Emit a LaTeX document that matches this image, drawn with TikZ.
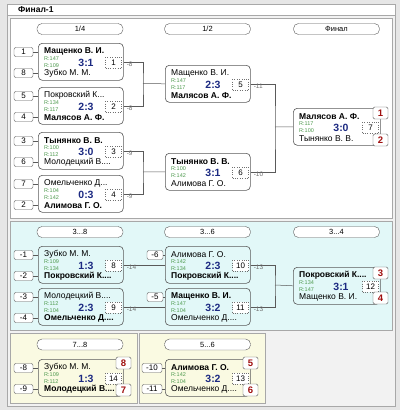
\documentclass[tikz,border=0pt]{standalone}
\usepackage{fontspec}
\setmainfont{Liberation Sans}
\usetikzlibrary{calc}
\definecolor{bgc}{HTML}{E6E6E6}
\definecolor{framec}{HTML}{F2F2F2}
\definecolor{cyanp}{HTML}{E2F8F8}
\definecolor{yelp}{HTML}{FAFAE2}
\definecolor{lnc}{HTML}{5A5A5A}
\definecolor{pnc}{HTML}{A8A8A8}
\definecolor{rc}{HTML}{4E9A4E}
\definecolor{scc}{HTML}{1C2A82}
\definecolor{redc}{HTML}{A01010}
\definecolor{labc}{HTML}{707070}
\tikzset{
 mbox/.style={draw=lnc, rounded corners=4pt, minimum height=37pt, inner sep=0pt, line width=0.6pt},
 seedbox/.style={draw=lnc, fill=white, rounded corners=2pt, minimum width=19pt, minimum height=9pt, inner sep=0pt, font=\fontsize{8}{8}\selectfont},
 hdr/.style={draw=lnc, fill=white, rounded corners=5pt, minimum width=86pt, minimum height=11pt, inner sep=0pt, font=\fontsize{7.5}{8}\selectfont},
 nm/.style={inner sep=0pt, anchor=west, font=\fontsize{8.5}{9}\selectfont},
 rt/.style={inner sep=0pt, anchor=west, text=rc, font=\fontsize{5.5}{6}\selectfont},
 sc/.style={inner sep=0pt, text=scc, font=\fontsize{10.5}{11}\selectfont\bfseries},
 dbox/.style={draw=labc, dotted, fill=white, minimum width=16pt, minimum height=11pt, inner sep=0pt, font=\fontsize{8}{8}\selectfont},
 redbox/.style={draw=lnc, fill=white, rounded corners=1.5pt, minimum width=15pt, minimum height=12pt, inner sep=0pt, text=redc, font=\fontsize{9.5}{10}\selectfont\bfseries},
 lab/.style={inner sep=0pt, anchor=west, text=labc, font=\fontsize{6.5}{7}\selectfont},
 conn/.style={draw=lnc, line width=0.5pt},
 framel/.style={draw=pnc, line width=0.6pt},
}
\def\mw{85}
\newcommand\mymatch[9]{%
 \node[mbox, minimum width=\mw pt, anchor=north west] (#1) at (#2,#3) {};
 \node[nm] (#1t) at ({#2+6},{#3+8.5}) {#4};
 \node[rt] (#1r) at ({#2+6},{#3+15.2}) {R:#5};
 \node[rt] (#1s) at ({#2+6},{#3+22.6}) {R:#6};
 \node[sc] (#1c) at ({#2+48},{#3+19.5}) {#7};
 \node[nm] (#1b) at ({#2+6},{#3+30.5}) {#8};
 \node[dbox] (#1n) at ({#2+\mw-9.5},{#3+19.5}) {#9};
}
\begin{document}
\begin{tikzpicture}[x=1pt,y=-1pt]
\useasboundingbox (0,0) rectangle (400,410);
\fill[bgc] (0,0) rectangle (400,410);
\draw[framel, fill=framec] (7,4) rectangle (395,406);
\draw[framel, fill=white] (7,4) rectangle (395,15);
\node[anchor=west, inner sep=0pt, font=\fontsize{8.5}{9}\selectfont\bfseries] (title) at (18,10) {Финал-1};
\draw[framel, fill=white] (10,18) rectangle (392,218);
\draw[framel, fill=cyanp] (10,221) rectangle (392,330);
\draw[framel, fill=yelp] (10,333) rectangle (137,403);
\draw[framel, fill=yelp] (139,333) rectangle (265,403);
% headers
\node[hdr] (h1) at (80,29) {1/4};
\node[hdr] (h2) at (207.5,29) {1/2};
\node[hdr] (h3) at (336.5,29) {Финал};
\node[hdr] (h4) at (80,232) {3...8};
\node[hdr] (h5) at (207.5,232) {3...6};
\node[hdr] (h6) at (336.5,232) {3...4};
\node[hdr] (h7) at (80,344.5) {7...8};
\node[hdr] (h8) at (207.5,344.5) {5...6};
% section 1
\mymatch{q1}{38}{43}{\bfseries Мащенко В. И.}{147}{109}{3:1}{Зубко М. М.}{1}
\mymatch{q2}{38}{87}{Покровский К...}{134}{117}{2:3}{\bfseries Малясов А. Ф.}{2}
\mymatch{q3}{38}{132}{\bfseries Тынянко В. В.}{100}{112}{3:0}{Молодецкий В....}{3}
\mymatch{q4}{38}{175}{Омельченко Д...}{104}{142}{0:3}{\bfseries Алимова Г. О.}{4}
\mymatch{s1}{165}{65}{Мащенко В. И.}{147}{117}{2:3}{\bfseries Малясов А. Ф.}{5}
\mymatch{s2}{165}{153}{\bfseries Тынянко В. В.}{100}{142}{3:1}{Алимова Г. О.}{6}
\def\mw{87}
\mymatch{f1}{293}{108}{\bfseries Малясов А. Ф.}{117}{100}{3:0}{Тынянко В. В.}{7}
\def\mw{85}
% section 2
\mymatch{a1}{38}{246}{Зубко М. М.}{109}{134}{1:3}{\bfseries Покровский К....}{8}
\mymatch{b1}{38}{288}{Молодецкий В....}{112}{104}{2:3}{\bfseries Омельченко Д....}{9}
\mymatch{c1}{165}{246}{Алимова Г. О.}{142}{134}{2:3}{\bfseries Покровский К....}{10}
\mymatch{d1}{165}{288}{\bfseries Мащенко В. И.}{147}{104}{3:2}{Омельченко Д....}{11}
\def\mw{87}
\mymatch{e1}{293}{267}{\bfseries Покровский К....}{134}{147}{3:1}{Мащенко В. И.}{12}
\def\mw{85}
% section 3
\mymatch{g1}{38}{359}{Зубко М. М.}{109}{112}{1:3}{\bfseries Молодецкий В....}{14}
\mymatch{k1}{165}{359}{\bfseries Алимова Г. О.}{142}{104}{3:2}{Омельченко Д....}{13}
% seeds
\foreach \nm/\yy/\tx/\mt in {sa/52/1/q1, sb/73/8/q1, sc/96/5/q2, sd/117/4/q2, se/141/3/q3, sf/162/6/q3, sg/184/7/q4, sh/205/2/q4,
  si/255/-1/a1, sj/276/-2/a1, sk/297/-3/b1, sl/318/-4/b1, sm/368/-8/g1, sn/389/-9/g1}{
  \node[seedbox] (\nm) at (23.5,\yy) {\tx};
  \draw[conn] (\nm) -- (\nm -| \mt.west);
}
\node[seedbox, minimum width=16pt] (so) at (155,255) {-6};
\draw[conn] (so) -- (so -| c1.west);
\node[seedbox, minimum width=16pt] (sp) at (155,297) {-5};
\draw[conn] (sp) -- (sp -| d1.west);
\node[seedbox, minimum width=20pt] (sq) at (152,368) {-10};
\draw[conn] (sq) -- (sq -| k1.west);
\node[seedbox, minimum width=20pt] (sr) at (152,389) {-11};
\draw[conn] (sr) -- (sr -| k1.west);
% red boxes
\node[redbox] (r1) at (380.5,113) {1};
\node[redbox] (r2) at (380.5,140) {2};
\node[redbox] (r3) at (380.5,273) {3};
\node[redbox] (r4) at (380.5,298) {4};
\node[redbox] (r5) at (123.5,363) {8};
\node[redbox] (r6) at (123.5,390) {7};
\node[redbox] (r7) at (250.5,363) {5};
\node[redbox] (r8) at (250.5,390) {6};
% connectors section 1
\coordinate (j1) at (143,83.5);
\coordinate (j2) at (143,172);
\coordinate (j3) at (275,127);
\draw[conn] (q1.east) -| (j1) |- (q2.east);
\draw[conn] (j1) -- (s1.west);
\draw[conn] (q3.east) -| (j2) |- (q4.east);
\draw[conn] (j2) -- (s2.west);
\draw[conn] (s1.east) -| (j3) |- (s2.east);
\draw[conn] (j3) -- (f1.west);
\node[lab] (l1) at ($(q1.east)+(3,2)$) {-8};
\node[lab] (l2) at ($(q2.east)+(3,2)$) {-8};
\node[lab] (l3) at ($(q3.east)+(3,2)$) {-9};
\node[lab] (l4) at ($(q4.east)+(3,2)$) {-9};
\node[lab] (l5) at ($(s1.east)+(3,2)$) {-11};
\node[lab] (l6) at ($(s2.east)+(3,2)$) {-10};
% connectors section 2
\coordinate (j4) at (275,285);
\draw[conn] (a1.east) -- (c1.west);
\draw[conn] (b1.east) -- (d1.west);
\draw[conn] (c1.east) -| (j4) |- (d1.east);
\draw[conn] (j4) -- (e1.west);
\node[lab] (l7) at ($(a1.east)+(3,2)$) {-14};
\node[lab] (l8) at ($(b1.east)+(3,2)$) {-14};
\node[lab] (l9) at ($(c1.east)+(3,2)$) {-13};
\node[lab] (l10) at ($(d1.east)+(3,2)$) {-13};
\end{tikzpicture}
\end{document}
